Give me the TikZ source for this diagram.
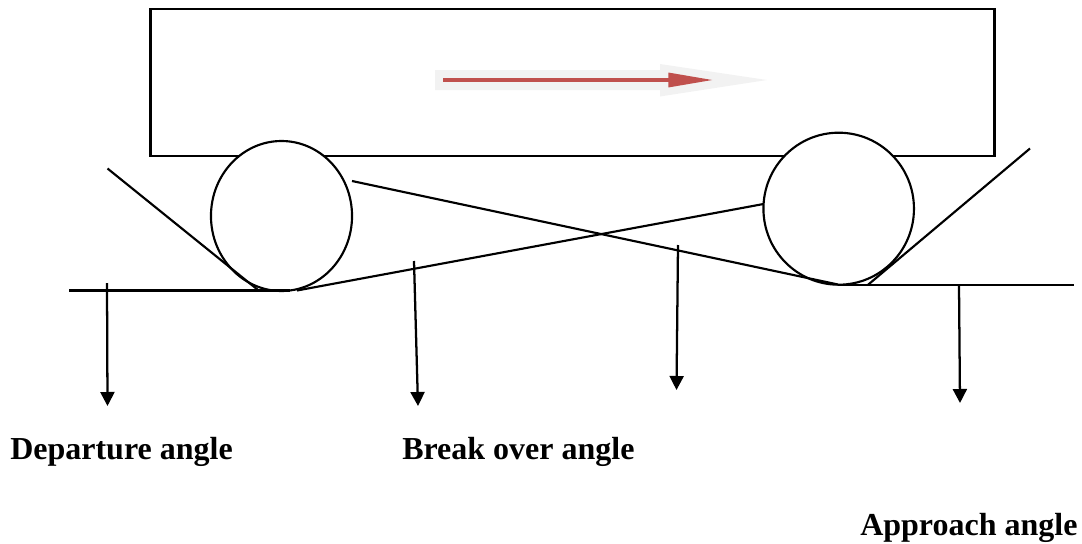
\documentclass[tikz,border=0pt]{standalone}
\usepackage{fontspec}
\setmainfont{Liberation Serif}
\usetikzlibrary{arrows.meta,shapes.geometric}
\definecolor{redarrow}{HTML}{C0504D}
\definecolor{paleblock}{HTML}{F2F2F2}
\tikzset{
  ln/.style={draw=black,line width=1.6pt},
  wheel/.style={ellipse,draw=black,fill=white,line width=1.6pt,inner sep=0pt,outer sep=0pt},
  drop/.style={draw=black,line width=1.7pt,-{Triangle[length=10.5pt,width=10.5pt]}},
  lab/.style={font=\bfseries\fontsize{24}{28}\selectfont,inner sep=0pt,anchor=base west}
}
\begin{document}
\begin{tikzpicture}[x=0.75pt,y=-0.75pt]
\useasboundingbox (0,0) rectangle (1082,543);
% body
\node[ln,inner sep=0pt,outer sep=0pt,minimum width=633pt,minimum height=110pt] (body) at (572.5,82.25) {};
% direction arrow
\fill[paleblock] (435,70) -- (660,70) -- (660,64) -- (767,80) -- (660,96.5) -- (660,90) -- (435,90) -- cycle;
\coordinate (rs) at (443,80);
\coordinate (re) at (713,80);
\draw[redarrow,line width=2.4pt,-{Triangle[length=33.5pt,width=10.5pt]}] (rs) -- (re);
% wheels
\node[wheel,minimum width=105.8pt,minimum height=112.5pt] (lw) at (281.5,216) {};
\node[wheel,minimum width=112.9pt,minimum height=114pt] (rw) at (838.7,208.7) {};
% ground + tangents
\coordinate (g1a) at (69,290.5);
\coordinate (g1b) at (290,290.5);
\coordinate (g2a) at (838,284.8);
\coordinate (g2b) at (1074,284.8);
\coordinate (t1a) at (107.5,168.5);
\coordinate (t1b) at (258,290);
\coordinate (t2a) at (1030,148.5);
\coordinate (t2b) at (868,284.8);
\coordinate (x1a) at (297,290.5);
\coordinate (x1b) at (763.5,204);
\coordinate (x2a) at (352,181);
\coordinate (x2b) at (838,284.5);
\draw[ln] (g1a) -- (g1b);
\draw[ln] (g2a) -- (g2b);
\draw[ln] (t1a) -- (t1b);
\draw[ln] (t2a) -- (t2b);
\draw[ln] (x1a) -- (x1b);
\draw[ln] (x2a) -- (x2b);
% drop arrows
\coordinate (a1s) at (107,283); \coordinate (a1e) at (107.5,406);
\coordinate (a2s) at (414,261); \coordinate (a2e) at (418,406);
\coordinate (a3s) at (678,245); \coordinate (a3e) at (676.5,390);
\coordinate (a4s) at (959,285); \coordinate (a4e) at (960,403);
\draw[drop] (a1s) -- (a1e);
\draw[drop] (a2s) -- (a2e);
\draw[drop] (a3s) -- (a3e);
\draw[drop] (a4s) -- (a4e);
% labels
\node[lab] (l1) at (10,459) {Departure angle};
\node[lab] (l2) at (402,459) {Break over angle};
\node[lab] (l3) at (860,535) {Approach angle};
\end{tikzpicture}
\end{document}
